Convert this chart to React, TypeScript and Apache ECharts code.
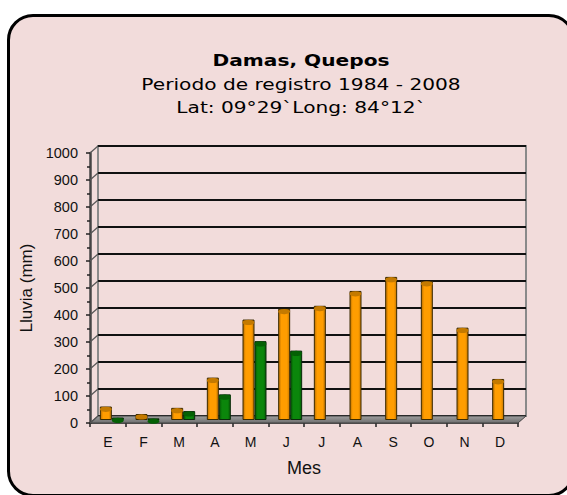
import React, { useEffect, useRef } from "react";
import * as echarts from "echarts";

const months = ["E", "F", "M", "A", "M", "J", "J", "A", "S", "O", "N", "D"];
const rainA = [50, 22, 45, 157, 372, 412, 423, 478, 530, 515, 342, 152];
const rainB: (number | null)[] = [9, 6, 33, 95, 292, 257, null, null, null, null, null, null];
const yTicks = [0, 100, 200, 300, 400, 500, 600, 700, 800, 900, 1000];

const titleLines = ["Damas, Quepos", "Periodo de registro 1984 - 2008", "Lat: 09°29`Long: 84°12`"];

export default function App() {
  const ref = useRef<HTMLDivElement>(null);
  useEffect(() => {
    if (!ref.current) return;
    const chart = echarts.init(ref.current, null, { renderer: "svg" });
    const W = 428, H = 270;
    const back = { left: 98, top: 146 };
    const mid = { left: 94, top: 150 };
    const front = { left: 90, top: 153 };
    const dx = back.left - front.left;
    const dy = front.top - back.top;
    const connectors = yTicks.map((v) => {
      const yf = front.top + H - (v / 1000) * H;
      return {
        type: "line",
        z: 5,
        shape: { x1: front.left, y1: yf, x2: front.left + dx, y2: yf - dy },
        style: { stroke: "#555", lineWidth: 1.2 },
      };
    });
    const fy = front.top + H;
    const titleY = [60, 84, 107];
    const titleEls = titleLines.map((t, i) => ({
      type: "group",
      x: 301,
      y: titleY[i],
      scaleX: 1.3,
      children: [
        {
          type: "text",
          x: 0,
          y: 0,
          style: {
            text: t,
            align: "center",
            verticalAlign: "middle",
            fontFamily: "DejaVu Sans",
            fontSize: 15.5,
            fontWeight: i === 0 ? "bold" : "normal",
            fill: "#000",
          },
        },
      ],
    }));
    const capStyle = (fill: string, stroke: string) => ({ color: fill, borderColor: stroke, borderWidth: 1 });
    const option: any = {
      animation: false,
      grid: [
        { left: back.left, top: back.top, width: W, height: H, show: true, borderColor: "#8a8a8a", borderWidth: 2, backgroundColor: "transparent" },
        { left: mid.left, top: mid.top, width: W, height: H },
        { left: front.left, top: front.top, width: W, height: H },
      ],
      xAxis: [
        { gridIndex: 0, type: "category", data: months, show: false },
        { gridIndex: 1, type: "category", data: months, show: false },
        {
          gridIndex: 2,
          type: "category",
          data: months,
          axisLine: { show: true, lineStyle: { color: "#222", width: 1.5 } },
          axisTick: { show: true, length: 4, lineStyle: { color: "#222", width: 1.5 } },
          axisLabel: { fontFamily: "Liberation Sans", fontSize: 14, color: "#111", margin: 12 },
          name: "Mes",
          nameLocation: "middle",
          nameGap: 36,
          nameTextStyle: { fontFamily: "Liberation Sans", fontSize: 18, color: "#111" },
        },
      ],
      yAxis: [
        {
          gridIndex: 0,
          type: "value",
          min: 0,
          max: 1000,
          interval: 100,
          axisLine: { show: false },
          axisTick: { show: false },
          axisLabel: { show: false },
          splitLine: { show: true, lineStyle: { color: "#111", width: 2 } },
        },
        { gridIndex: 1, type: "value", min: 0, max: 1000, interval: 100, show: false, splitLine: { show: false } },
        {
          gridIndex: 2,
          type: "value",
          min: 0,
          max: 1000,
          interval: 100,
          axisLine: { show: true, lineStyle: { color: "#444", width: 2.5 } },
          axisTick: { show: true, length: 4, lineStyle: { color: "#222", width: 1.5 } },
          minorTick: { show: true, splitNumber: 2, length: 3, lineStyle: { color: "#222", width: 1.5 } },
          splitLine: { show: false },
          axisLabel: { fontFamily: "Liberation Sans", fontSize: 14.5, color: "#111", margin: 12, formatter: (v: number) => String(v) },
          name: "Lluvia (mm)",
          nameLocation: "middle",
          nameGap: 29,
          nameRotate: 90,
          nameTextStyle: { fontFamily: "Liberation Sans", fontSize: 17, color: "#111" },
        },
      ],
      graphic: [
        {
          type: "polygon",
          z: 1,
          shape: {
            points: [
              [front.left, fy],
              [front.left + W, fy],
              [front.left + W + dx, fy - dy],
              [front.left + dx, fy - dy],
            ],
          },
          style: {
            fill: new echarts.graphic.LinearGradient(0, 0, 0, 1, [
              { offset: 0, color: "#a0a0a0" },
              { offset: 1, color: "#6e6e6e" },
            ]),
            stroke: "#444",
            lineWidth: 1,
          },
        },
        ...connectors,
        ...titleEls,
      ],
      series: [
        {
          type: "bar",
          xAxisIndex: 1,
          yAxisIndex: 1,
          data: rainA,
          barWidth: 12,
          barGap: "0%",
          z: 3,
          itemStyle: {
            color: new echarts.graphic.LinearGradient(0, 0, 1, 0, [
              { offset: 0, color: "#b86e00" },
              { offset: 0.25, color: "#ff9d00" },
              { offset: 0.75, color: "#ff9d00" },
              { offset: 1, color: "#c47600" },
            ]),
            borderColor: "#3a2a00",
            borderWidth: 1,
          },
        },
        {
          type: "bar",
          xAxisIndex: 1,
          yAxisIndex: 1,
          data: rainB,
          barWidth: 12,
          barGap: "0%",
          z: 3,
          itemStyle: {
            color: new echarts.graphic.LinearGradient(0, 0, 1, 0, [
              { offset: 0, color: "#045a04" },
              { offset: 0.25, color: "#0b860b" },
              { offset: 0.75, color: "#0b860b" },
              { offset: 1, color: "#066006" },
            ]),
            borderColor: "#0a2a0a",
            borderWidth: 1,
          },
        },
        {
          type: "pictorialBar",
          xAxisIndex: 1,
          yAxisIndex: 1,
          data: rainA,
          symbol: "circle",
          symbolSize: [12, 5],
          symbolPosition: "end",
          symbolOffset: ["-50%", 0],
          z: 6,
          itemStyle: capStyle("#c47a00", "#2a1a00"),
        },
        {
          type: "pictorialBar",
          xAxisIndex: 1,
          yAxisIndex: 1,
          data: rainB,
          symbol: "circle",
          symbolSize: [12, 5],
          symbolPosition: "end",
          symbolOffset: ["50%", 0],
          z: 6,
          itemStyle: capStyle("#056005", "#022002"),
        },
      ],
    };
    chart.setOption(option);
    return () => chart.dispose();
  }, []);

  return (
    <div style={{ position: "fixed", left: 0, top: 0, width: 567, height: 495, overflow: "hidden", background: "#fff" }}>
      <div
        style={{
          position: "absolute",
          left: 7,
          top: 14,
          width: 568,
          height: 483,
          boxSizing: "border-box",
          border: "3.5px solid #000",
          borderRadius: 26,
          background: "#f2dcdb",
        }}
      />
      <div ref={ref} style={{ position: "absolute", left: 0, top: 0, width: 567, height: 495 }} />
    </div>
  );
}
